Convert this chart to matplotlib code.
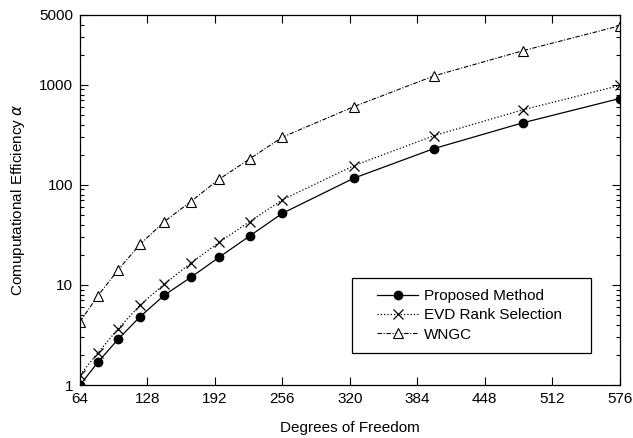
import numpy as np
import matplotlib.pyplot as plt
from matplotlib.patches import Rectangle
from matplotlib.ticker import FixedLocator, LogLocator, NullFormatter

plt.rcParams['font.family'] = ['Liberation Sans', 'DejaVu Sans']

# degrees of freedom (squares 8^2 .. 24^2)
dof = [64, 81, 100, 121, 144, 169, 196, 225, 256, 324, 400, 484, 576]
proposed = [1.0, 1.69, 2.86, 4.82, 7.9, 11.9, 18.9, 30.9, 52, 117, 231, 417, 730]
evd = [1.26, 2.1, 3.63, 6.3, 10.2, 16.5, 26.7, 43, 71, 156, 311, 562, 985]
wngc = [4.3, 7.8, 14.1, 25.5, 43, 68, 114, 182, 300, 607, 1230, 2190, 3890]

x_ticks = [64, 128, 192, 256, 320, 384, 448, 512, 576]
y_ticks = [1, 10, 100, 1000, 5000]

fig = plt.figure(figsize=(6.33, 4.38), dpi=100)
ax = fig.add_axes([0.1264, 0.121, 0.8526, 0.845])

ax.plot(dof, proposed, '-', color='k', lw=0.9, marker='o', ms=6,
        mfc='k', mec='k', label='Proposed Method')
ax.plot(dof, evd, ':', color='k', lw=0.9, marker='x', ms=7, mew=0.9,
        label='EVD Rank Selection')
ax.plot(dof, wngc, '-.', color='k', lw=0.8, marker='^', ms=7.5, mew=0.8,
        mfc='white', mec='k', label='WNGC', dashes=(4, 1.5, 1, 1.5))

ax.set_yscale('log')
ax.set_xlim(64, 576)
ax.set_ylim(1, 5000)
ax.set_xticks(x_ticks)
ax.set_xticklabels([str(t) for t in x_ticks])
ax.yaxis.set_major_locator(FixedLocator(y_ticks))
ax.set_yticklabels([str(t) for t in y_ticks])
ax.yaxis.set_minor_locator(LogLocator(base=10, subs=np.arange(2, 10)))
ax.yaxis.set_minor_formatter(NullFormatter())

ax.tick_params(which='both', direction='in', top=True, right=True,
               labelsize=11, width=0.8)
ax.tick_params(which='major', length=6, pad=5)
ax.tick_params(which='minor', length=3)
for s in ax.spines.values():
    s.set_linewidth(0.9)

ax.set_xlabel('Degrees of Freedom', fontsize=11, labelpad=11)
ax.set_ylabel('Comuputational Efficiency $\\alpha$', fontsize=11, labelpad=9)

# legend frame is wider than matplotlib's padding allows, draw it by hand
ax.add_patch(Rectangle((0.504, 0.0865), 0.442, 0.2025, transform=ax.transAxes,
                       fill=True, fc='white', ec='k', lw=0.9, zorder=4))
leg = ax.legend(loc='center', bbox_to_anchor=(0.722, 0.188), fontsize=11,
                frameon=False, handlelength=2.7, labelspacing=0.35,
                handletextpad=0.4, borderpad=0)
leg.set_zorder(5)

fig.savefig('out.png', dpi=100)
